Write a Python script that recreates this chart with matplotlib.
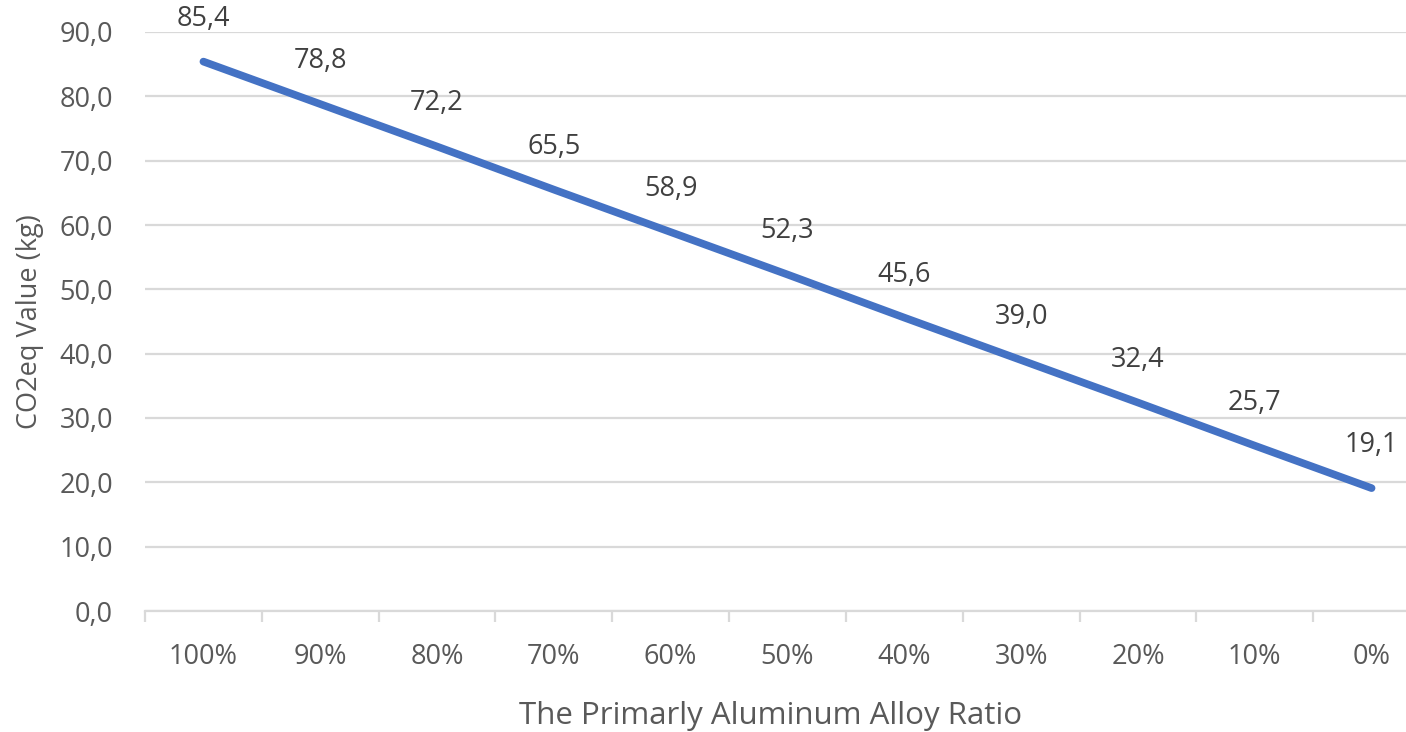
import matplotlib
matplotlib.use("Agg")
import matplotlib.pyplot as plt
import numpy as np

categories = ["100%", "90%", "80%", "70%", "60%", "50%", "40%", "30%", "20%", "10%", "0%"]
co2_values = [85.4, 78.8, 72.2, 65.5, 58.9, 52.3, 45.6, 39.0, 32.4, 25.7, 19.1]

plt.rcParams["font.family"] = ["Open Sans", "DejaVu Sans"]
text_color = "#595959"
grid_color = "#d9d9d9"

fig = plt.figure(figsize=(14.06, 7.32), dpi=100)
ax = fig.add_axes([145 / 1406, 1 - 611 / 732, (1430 - 145) / 1406, (611 - 32) / 732])

x = np.arange(len(categories))
ax.plot(x, co2_values, color="#4472c4", linewidth=5.5, solid_capstyle="round")

for xi, v in zip(x, co2_values):
    ax.annotate(
        f"{v:.1f}".replace(".", ","),
        (xi, v),
        xytext=(0, 31),
        textcoords="offset points",
        ha="center",
        va="center",
        fontsize=19.5,
        color="#404040",
    )

ax.set_xlim(-0.5, len(categories) - 0.5)
ax.set_ylim(0, 90)
ax.set_yticks(np.arange(0, 91, 10))
ax.set_yticklabels([f"{t:.1f}".replace(".", ",") for t in np.arange(0, 91, 10)])
ax.set_xticks(x)
ax.set_xticklabels(categories)
ax.set_xticks(np.arange(-0.5, len(categories), 1), minor=True)

ax.grid(axis="y", color=grid_color, linewidth=1.6)
ax.set_axisbelow(True)
for s in ["top", "right", "left"]:
    ax.spines[s].set_visible(False)
ax.spines["bottom"].set_color(grid_color)
ax.spines["bottom"].set_linewidth(1.6)

ax.tick_params(axis="y", length=0, labelsize=19.5, labelcolor=text_color, pad=23)
ax.tick_params(axis="x", which="major", length=0, labelsize=19.5, labelcolor=text_color, pad=23)
ax.tick_params(axis="x", which="minor", length=8, width=1.6, color=grid_color)

ax.set_xlabel("The Primarly Aluminum Alloy Ratio", fontsize=22.5, color=text_color)
ax.xaxis.set_label_coords(0.487, -0.155)
ax.set_ylabel("CO2eq Value (kg)", fontsize=19.5, color=text_color, labelpad=11)

fig.savefig("out.png", dpi=100)
